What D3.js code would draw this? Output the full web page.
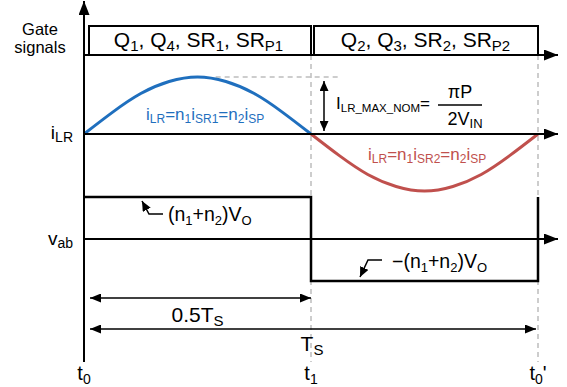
<!DOCTYPE html>
<html>
<head>
<meta charset="utf-8">
<script src="https://cdn.jsdelivr.net/npm/d3@7"></script>
<style>
html, body { margin: 0; padding: 0; background: #fff; }
svg { display: block; font-family: "Liberation Sans", Arial, sans-serif; }
</style>
</head>
<body>
<div id="viz"></div>
<script>
// one switching period, time normalised to Ts
// text pieces: [text, isSubscript]
var timeTicks = [0, 0.5, 1],
    timeLabels = [
        [['t'], ['0', 1]],
        [['t'], ['1', 1]],
        [['t'], ['0', 1], ["'"]]
    ],

    gateStart = [0, 0.5],
    gateEnd = [0.5, 1],
    gateLabels = [
        [['Q'], ['1', 1], [', Q'], ['4', 1], [', SR'], ['1', 1], [', SR'], ['P1', 1]],
        [['Q'], ['2', 1], [', Q'], ['3', 1], [', SR'], ['2', 1], [', SR'], ['P2', 1]]
    ],

    // resonant current (normalised to its peak)
    iTime = [0, 0.0625, 0.125, 0.1875, 0.25, 0.3125, 0.375, 0.4375, 0.5,
             0.5625, 0.625, 0.6875, 0.75, 0.8125, 0.875, 0.9375, 1],
    iValues = [0, 0.38, 0.71, 0.92, 1, 0.92, 0.71, 0.38, 0,
               -0.38, -0.71, -0.92, -1, -0.92, -0.71, -0.38, 0],

    vabTime = [0, 0.5, 0.5, 1, 1],
    vabValues = [1, 1, -1, -1, 1],

    dimStart = [0, 0],
    dimEnd = [0.5, 1],
    dimLabels = [
        [['0.5T'], ['S', 1]],
        [['T'], ['S', 1]]
    ];

var W = 567, H = 387,
    blue = '#1f6fbe',
    red = '#c0504d',
    guide = '#bdbdbd';

var svg = d3.select('#viz')
    .append('svg')
        .attr('width', W)
        .attr('height', H);

var x = d3.scaleLinear().domain([0, 1]).range([84, 538]),
    yGate = d3.scaleLinear().domain([0, 1]).range([55, 26]),
    yI = d3.scaleLinear().domain([-1, 1]).range([191, 77]),
    yV = d3.scaleLinear().domain([-1, 1]).range([281, 197]),
    axisEnd = 558,
    axisBottom = 362;

var defs = svg.append('defs');

function marker(id, len, wid) {
    defs.append('marker')
        .attr('id', id)
        .attr('viewBox', '0 0 ' + len + ' ' + wid)
        .attr('refX', len)
        .attr('refY', wid / 2)
        .attr('markerWidth', len)
        .attr('markerHeight', wid)
        .attr('markerUnits', 'userSpaceOnUse')
        .attr('orient', 'auto-start-reverse')
      .append('path')
        .attr('d', 'M0,0L' + len + ',' + (wid / 2) + 'L0,' + wid + 'Z')
        .attr('fill', '#000');
}
marker('axisHead', 14, 11);
marker('dimHead', 11, 9);
marker('smallHead', 10, 9);

// text with subscripts
function rich(g, px, py, parts, size, subSize, anchor, color) {
    var t = g.append('text')
        .attr('x', px)
        .attr('y', py)
        .attr('text-anchor', anchor || 'start')
        .attr('fill', color || '#000')
        .style('font-size', size + 'px'),
        shift = Math.round(size * 0.18),
        down = false;

    parts.forEach(function (p) {
        var s = t.append('tspan').text(p[0]);
        if (p[1]) {
            s.style('font-size', subSize + 'px');
            if (!down) { s.attr('dy', shift); down = true; }
        } else if (down) {
            s.attr('dy', -shift);
            down = false;
        }
    });
    return t;
}

var guides = svg.append('g').attr('class', 'guides'),
    marks = svg.append('g').attr('class', 'marks'),
    axes = svg.append('g').attr('class', 'axes'),
    labels = svg.append('g').attr('class', 'labels');

// dashed time guides at t1 and t0'
guides.selectAll('line.t')
    .data(timeTicks.slice(1))
    .enter().append('line')
        .attr('class', 't')
        .attr('x1', function (d) { return x(d); })
        .attr('x2', function (d) { return x(d); })
        .attr('y1', yGate(0))
        .attr('y2', axisBottom)
        .style('stroke', guide)
        .style('stroke-width', 1.5)
        .style('stroke-dasharray', '5,4');

// peak level guide
guides.append('line')
    .attr('x1', x(0.29))
    .attr('x2', x(0.56))
    .attr('y1', yI(1))
    .attr('y2', yI(1))
    .style('stroke', guide)
    .style('stroke-width', 1.5)
    .style('stroke-dasharray', '5,4');

// axes
axes.append('line')
    .attr('x1', x(0)).attr('x2', x(0))
    .attr('y1', axisBottom).attr('y2', 1)
    .attr('marker-end', 'url(#axisHead)')
    .style('stroke', '#000').style('stroke-width', 2);

axes.selectAll('line.h')
    .data([yGate(0), yI(0), yV(0)])
    .enter().append('line')
        .attr('class', 'h')
        .attr('x1', x(0)).attr('x2', axisEnd)
        .attr('y1', function (d) { return d; })
        .attr('y2', function (d) { return d; })
        .attr('marker-end', 'url(#axisHead)')
        .style('stroke', '#000').style('stroke-width', 2);

// gate signal boxes
var gateInset = [5, 3];
marks.selectAll('path.gate')
    .data(gateStart)
    .enter().append('path')
        .attr('class', 'gate')
        .attr('d', function (d, i) {
            return 'M' + (x(d) + gateInset[i]) + ',' + yGate(0) +
                'V' + yGate(1) + 'H' + x(gateEnd[i]) + 'V' + yGate(0);
        })
        .style('fill', 'none')
        .style('stroke', '#000')
        .style('stroke-width', 2);

gateLabels.forEach(function (lab, i) {
    rich(labels, (x(gateStart[i]) + x(gateEnd[i])) / 2 + 1, 47, lab, 21, 15, 'middle');
});

// resonant current, positive and negative half
var iPts = iTime.map(function (t, i) { return [t, iValues[i]]; }),
    iLine = d3.line()
        .x(function (d) { return x(d[0]); })
        .y(function (d) { return yI(d[1]); })
        .curve(d3.curveNatural);

marks.append('path')
    .datum(iPts.filter(function (d) { return d[0] <= 0.5; }))
    .attr('d', iLine)
    .style('fill', 'none')
    .style('stroke', blue)
    .style('stroke-width', 3);

marks.append('path')
    .datum(iPts.filter(function (d) { return d[0] >= 0.5; }))
    .attr('d', iLine)
    .style('fill', 'none')
    .style('stroke', red)
    .style('stroke-width', 3);

// bridge voltage vab
marks.append('path')
    .datum(vabTime.map(function (t, i) { return [t, vabValues[i]]; }))
    .attr('d', d3.line()
        .x(function (d) { return x(d[0]); })
        .y(function (d) { return yV(d[1]); }))
    .style('fill', 'none')
    .style('stroke', '#000')
    .style('stroke-width', 2.5);

// dimension arrows
var dimY = [298, 329];
marks.selectAll('line.dim')
    .data(dimStart)
    .enter().append('line')
        .attr('class', 'dim')
        .attr('x1', function (d) { return x(d) + 6; })
        .attr('x2', function (d, i) { return x(dimEnd[i]) - (dimEnd[i] === 1 ? 2 : 0); })
        .attr('y1', function (d, i) { return dimY[i]; })
        .attr('y2', function (d, i) { return dimY[i]; })
        .attr('marker-start', 'url(#dimHead)')
        .attr('marker-end', 'url(#dimHead)')
        .style('stroke', '#000')
        .style('stroke-width', 1.5);

rich(labels, (x(dimStart[0]) + x(dimEnd[0])) / 2, 322, dimLabels[0], 21, 15, 'middle');
rich(labels, x(0.5) + 1, 351, dimLabels[1], 21, 15, 'middle');

// peak current arrow
marks.append('line')
    .attr('x1', 324).attr('x2', 324)
    .attr('y1', yI(1) + 4).attr('y2', yI(0) - 3)
    .attr('marker-start', 'url(#smallHead)')
    .attr('marker-end', 'url(#smallHead)')
    .style('stroke', '#000')
    .style('stroke-width', 1.5);

// pointers to the vab levels
marks.append('path')
    .attr('d', 'M163,' + (yV(1) + 17) + 'H149L142,' + (yV(1) + 4))
    .attr('marker-end', 'url(#smallHead)')
    .style('fill', 'none').style('stroke', '#000').style('stroke-width', 1.5);

marks.append('path')
    .attr('d', 'M382,' + (yV(-1) - 21) + 'H368L360,' + (yV(-1) - 4))
    .attr('marker-end', 'url(#smallHead)')
    .style('fill', 'none').style('stroke', '#000').style('stroke-width', 1.5);

// texts
labels.append('text')
    .attr('x', 40).attr('y', 35)
    .attr('text-anchor', 'middle')
    .style('font-size', '16.5px')
    .text('Gate');
labels.append('text')
    .attr('x', 40).attr('y', 53)
    .attr('text-anchor', 'middle')
    .style('font-size', '16.5px')
    .text('signals');

rich(labels, 73, 139, [['i'], ['LR', 1]], 19, 14, 'end');
rich(labels, 73, 245, [['v'], ['ab', 1]], 19, 14, 'end');

rich(labels, 146, 120,
    [['i'], ['LR', 1], ['=n'], ['1', 1], ['i'], ['SR1', 1], ['=n'], ['2', 1], ['i'], ['SP', 1]],
    17, 12, 'start', blue);
rich(labels, 368, 160,
    [['i'], ['LR', 1], ['=n'], ['1', 1], ['i'], ['SR2', 1], ['=n'], ['2', 1], ['i'], ['SP', 1]],
    17, 12, 'start', red);

rich(labels, 336, 109, [['I'], ['LR_MAX_NOM', 1], ['=']], 17, 11.5, 'start');
labels.append('text')
    .attr('x', 460).attr('y', 98)
    .attr('text-anchor', 'middle')
    .style('font-size', '18px')
    .text('\u03c0P');
marks.append('line')
    .attr('x1', 438).attr('x2', 482)
    .attr('y1', 105).attr('y2', 105)
    .style('stroke', '#000').style('stroke-width', 1.5);
rich(labels, 465, 125, [['2V'], ['IN', 1]], 18, 13, 'middle');

rich(labels, 168, 221, [['(n'], ['1', 1], ['+n'], ['2', 1], [')V'], ['O', 1]], 19.5, 13, 'start');
rich(labels, 392, 268, [['\u2212(n'], ['1', 1], ['+n'], ['2', 1], [')V'], ['O', 1]], 19.5, 13, 'start');

timeLabels.forEach(function (lab, i) {
    rich(labels, x(timeTicks[i]), 380, lab, 20, 14, 'middle');
});
</script>
</body>
</html>
